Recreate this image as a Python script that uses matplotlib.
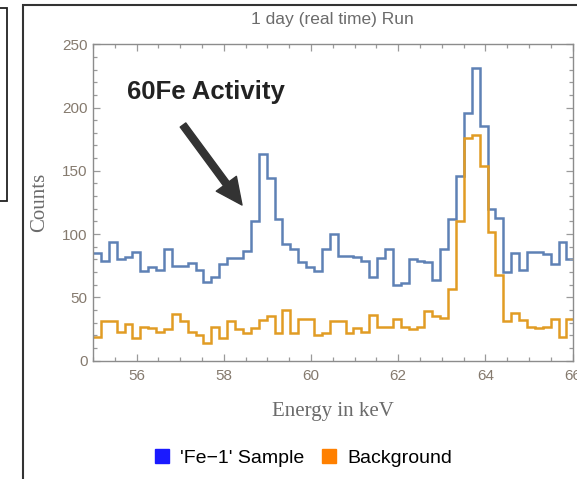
import matplotlib
matplotlib.use("Agg")
import matplotlib.pyplot as plt
import numpy as np
from matplotlib.lines import Line2D
from matplotlib.patches import Rectangle
from matplotlib.ticker import MultipleLocator

# histogram bins (keV)
bin_start = 55.0
bin_width = 0.181
# counts per bin, 1 day run
sample_counts = [85, 79, 94, 80, 82, 86, 71, 74, 72, 88,
                 75, 75, 77, 72, 62, 66, 76, 81, 81, 87,
                 110, 163, 144, 112, 92, 88, 78, 74, 71, 88,
                 100, 83, 83, 82, 79, 66, 81, 88, 60, 61,
                 80, 79, 78, 64, 88, 112, 146, 196, 231, 185,
                 120, 113, 70, 85, 72, 86, 86, 84, 76, 94,
                 80]
background_counts = [19, 31, 31, 23, 29, 18, 27, 26, 23, 25,
                     37, 31, 23, 20, 14, 27, 18, 31, 25, 22,
                     26, 32, 35, 22, 40, 22, 33, 33, 20, 22,
                     31, 31, 22, 26, 23, 36, 27, 27, 33, 27,
                     25, 27, 39, 35, 34, 57, 110, 176, 178, 154,
                     102, 68, 31, 38, 32, 27, 26, 27, 33, 19,
                     33]
x_ticks = [56, 58, 60, 62, 64, 66]
y_ticks = [0, 50, 100, 150, 200, 250]
series_names = ["'Fe\u22121' Sample", "Background"]

edges = bin_start + bin_width * np.arange(len(sample_counts) + 1)

blue = "#5e81b5"
orange = "#e19c24"
tick_col = "#857a6e"
label_col = "#6b6b6b"
sans = "Liberation Sans"
serif = "Liberation Serif"

fig = plt.figure(figsize=(5.77, 4.79), dpi=100)
ax = fig.add_axes([93 / 577, 1 - 360.7 / 479, 479.6 / 577, 316.5 / 479])

ax.stairs(sample_counts, edges, baseline=None, color=blue, lw=1.8)
ax.stairs(background_counts, edges, baseline=None, color=orange, lw=1.8)

ax.set_xlim(55, 66)
ax.set_ylim(0, 250)
ax.set_xticks(x_ticks)
ax.set_yticks(y_ticks)
ax.xaxis.set_minor_locator(MultipleLocator(0.5))
ax.yaxis.set_minor_locator(MultipleLocator(10))
ax.tick_params(which="both", direction="in", top=True, right=True,
               color="#9a9a9a", width=0.9)
ax.tick_params(which="major", length=5, labelsize=11, labelcolor=tick_col)
ax.tick_params(which="minor", length=2.8)
ax.tick_params(axis="x", pad=6)
ax.tick_params(axis="y", pad=4)
for lab in ax.get_xticklabels() + ax.get_yticklabels():
    lab.set_fontfamily(sans)
for sp in ax.spines.values():
    sp.set_color("#8c8c8c")
    sp.set_linewidth(1.0)

ax.set_title("1 day (real time) Run", fontsize=12.5, color=label_col,
             family=sans, y=1.077, va="center", pad=0)
ax.set_xlabel("Energy in keV", fontsize=15, color=label_col, family=serif)
ax.xaxis.label.set_va("center")
ax.xaxis.set_label_coords(0.5, -0.161)
ax.set_ylabel("Counts", fontsize=15, color=label_col, family=serif)
ax.yaxis.label.set_va("center")
ax.yaxis.set_label_coords(-0.1105, 0.5)

# annotation with arrow
ax.annotate("", xy=(242, 479 - 205), xycoords="figure pixels",
            xytext=(183, 479 - 125), textcoords="figure pixels",
            arrowprops=dict(width=5, headwidth=18, headlength=19,
                            color="#333333", shrink=0))
fig.text(206 / 577, 1 - 92 / 479, "60Fe Activity", fontsize=18.5,
         fontweight="bold", color="#222222", family=sans,
         ha="center", va="center")

# legend
handles = [Line2D([], [], marker="s", ls="none", color="#1a1aff", markersize=9.5),
           Line2D([], [], marker="s", ls="none", color="#ff8000", markersize=9.5)]
fig.legend(handles, series_names, loc="center", ncol=2, frameon=False,
           bbox_to_anchor=(303.5 / 577, 1 - 458 / 479),
           prop={"family": sans, "size": 14}, handlelength=0.7,
           handletextpad=0.6, columnspacing=0.9)

# panel borders
fig.add_artist(Rectangle((23 / 577, -0.1), 1.2, 474 / 479 + 0.1,
                         transform=fig.transFigure, fill=False,
                         edgecolor="#333333", lw=1.5))
fig.add_artist(Rectangle((-0.1, 1 - 201 / 479), 0.1 + 7 / 577, 193 / 479,
                         transform=fig.transFigure, fill=False,
                         edgecolor="#222222", lw=1.3))

fig.savefig("out.png", dpi=100)
